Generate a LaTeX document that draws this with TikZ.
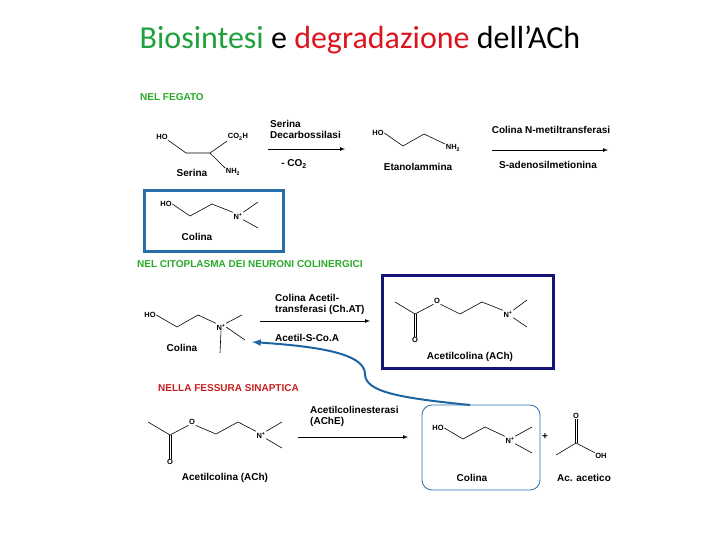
\documentclass[tikz,border=0pt]{standalone}
\usepackage{fontspec}
\setmainfont{Liberation Sans}
\newfontfamily\titlefont{Carlito}
\definecolor{tgreen}{RGB}{30,160,60}
\definecolor{tred}{RGB}{220,20,30}
\definecolor{lgreen}{RGB}{40,170,40}
\definecolor{lred}{RGB}{200,30,30}
\definecolor{boxblue}{RGB}{40,110,170}
\definecolor{navy}{RGB}{20,20,120}
\definecolor{curveblue}{RGB}{30,100,160}
\begin{document}
\begin{tikzpicture}[x=1pt,y=-1pt,
  lbl/.style={font=\fontsize{10}{11}\selectfont\bfseries,inner sep=0pt},
  atom/.style={font=\fontsize{7.5}{8}\selectfont\bfseries,inner sep=0.5pt},
  sect/.style={font=\fontsize{10}{11}\selectfont\bfseries,inner sep=0pt,anchor=west},
  bond/.style={line width=0.6pt},
  rxn/.style={line width=0.7pt,-latex}]
\useasboundingbox (0,0) rectangle (720,540);
\node[font=\titlefont\fontsize{32}{34}\selectfont] (title) at (360,40) {\textcolor{tgreen}{Biosintesi} e \textcolor{tred}{degradazione} dell’ACh};
% ---- NEL FEGATO
\node[sect,text=lgreen] (s1) at (140,97) {NEL FEGATO};
\node[atom] (sho) at (162,137) {HO};
\node[atom] (sco) at (238,137) {CO\textsubscript{2}H};
\node[atom] (snh) at (233,172) {NH\textsubscript{2}};
\coordinate (sa) at (186,153); \coordinate (sb) at (210,153);
\draw[bond] (sho.south east) -- (sa) -- (sb) -- (sco.south west);
\draw[bond] (sb) -- (snh.north west);
\node[lbl] (serina) at (192,173) {Serina};
\coordinate (a1s) at (268,149); \coordinate (a1e) at (345,149);
\draw[rxn] (a1s) -- (a1e);
\node[lbl,anchor=west,align=left] (enz1) at (270,129) {Serina\\Decarbossilasi};
\node[lbl] (co2) at (294,164) {- CO\textsubscript{2}};
\node[atom] (eho) at (378,133) {HO};
\node[atom] (enh) at (453,148) {NH\textsubscript{2}};
\draw[bond] (eho.east) -- (403,146) -- (424,134) -- (enh.north west);
\node[lbl] (etan) at (418,167) {Etanolammina};
\coordinate (a2s) at (492,150); \coordinate (a2e) at (608,150);
\draw[rxn] (a2s) -- (a2e);
\node[lbl] (enz2) at (551,130) {Colina N-metiltransferasi};
\node[lbl] (sam) at (548,165) {S-adenosilmetionina};
\draw[boxblue,line width=3pt] (144,191) rectangle (283,251);
\node[atom] (cho) at (166,204) {HO};
\node[atom] (cn) at (238,216) {N\textsuperscript{+}};
\draw[bond] (cho.east) -- (190,216) -- (212,204) -- (cn.north west);
\draw[bond] (cn.north east) -- (258,202);
\draw[bond] (cn.south east) -- (258,228);
\node[lbl] (colina1) at (197,237) {Colina};
% ---- CITOPLASMA
\node[sect,text=lgreen] (s2) at (137,264) {NEL CITOPLASMA DEI NEURONI COLINERGICI};
\node[atom] (c2ho) at (150,315) {HO};
\node[atom] (c2n) at (221,327) {N\textsuperscript{+}};
\draw[bond] (c2ho.east) -- (177,327) -- (198,315) -- (c2n.north west);
\draw[bond] (c2n.north east) -- (242,315);
\draw[bond] (c2n.east) -- (245,340);
\draw[bond] (c2n.south) -- (220,353);
\node[lbl] (colina2) at (182,348) {Colina};
\coordinate (a3s) at (260,321); \coordinate (a3e) at (370,321);
\draw[rxn] (a3s) -- (a3e);
\node[lbl,anchor=west,align=left] (enz3) at (275,304) {Colina Acetil-\\transferasi (Ch.AT)};
\node[lbl,anchor=west] (acoa) at (275,338) {Acetil-S-Co.A};
\draw[navy,line width=3pt] (382,275) rectangle (553,368);
\node[atom] (aco) at (415,340) {O};
\node[atom] (aeo) at (437,301) {O};
\node[atom] (an) at (508,314) {N\textsuperscript{+}};
\coordinate (ac) at (415,314);
\draw[bond] (395,302) -- (ac) -- (aeo.south west);
\draw[bond] ([xshift=-1.2pt]ac) -- ([xshift=-1.2pt]aco.north);
\draw[bond] ([xshift=1.2pt]ac) -- ([xshift=1.2pt]aco.north);
\draw[bond] (aeo.south east) -- (460,314) -- (482,302) -- (an.north west);
\draw[bond] (an.north east) -- (527,300);
\draw[bond] (an.south east) -- (527,327);
\node[lbl] (ach1) at (470,357) {Acetilcolina (ACh)};
% ---- FESSURA
\node[sect,text=lred] (s3) at (158,388) {NELLA FESSURA SINAPTICA};
\node[atom] (bco) at (170,462) {O};
\node[atom] (beo) at (192,422) {O};
\node[atom] (bn) at (261,435) {N\textsuperscript{+}};
\coordinate (bc) at (170,435);
\draw[bond] (148,422) -- (bc) -- (beo.south west);
\draw[bond] ([xshift=-1.2pt]bc) -- ([xshift=-1.2pt]bco.north);
\draw[bond] ([xshift=1.2pt]bc) -- ([xshift=1.2pt]bco.north);
\draw[bond] (beo.south east) -- (216,434) -- (238,422) -- (bn.north west);
\draw[bond] (bn.north east) -- (282,422);
\draw[bond] (bn.south east) -- (282,448);
\node[lbl] (ach2) at (225,478) {Acetilcolina (ACh)};
\coordinate (a4s) at (298,437); \coordinate (a4e) at (408,437);
\draw[rxn] (a4s) -- (a4e);
\node[lbl,anchor=west,align=left] (enz4) at (310,416) {Acetilcolinesterasi\\(AChE)};
\draw[boxblue,line width=0.8pt,rounded corners=10pt] (422,405) rectangle (540,490);
\node[atom] (dho) at (438,428) {HO};
\node[atom] (dn) at (510,440) {N\textsuperscript{+}};
\draw[bond] (dho.east) -- (463,439) -- (485,427) -- (dn.north west);
\draw[bond] (dn.north east) -- (532,427);
\draw[bond] (dn.south east) -- (532,453);
\node[lbl] (colina3) at (472,478) {Colina};
\node[lbl] (plus) at (545,437) {+};
\node[atom] (xo) at (576,416) {O};
\node[atom] (xoh) at (601,456) {OH};
\coordinate (xc) at (576,443);
\draw[bond] (556,455) -- (xc) -- (xoh.north west);
\draw[bond] ([xshift=-1.2pt]xc) -- ([xshift=-1.2pt]xo.south);
\draw[bond] ([xshift=1.2pt]xc) -- ([xshift=1.2pt]xo.south);
\node[lbl] (acac) at (584,478) {Ac. acetico};
% curve
\coordinate (cstart) at (470,405);
\coordinate (cend) at (252,342);
\draw[curveblue,line width=2pt,-latex] (cstart) .. controls (400,398) and (365,392) .. (365,374) .. controls (365,352) and (310,346) .. (cend);
\end{tikzpicture}
\end{document}
